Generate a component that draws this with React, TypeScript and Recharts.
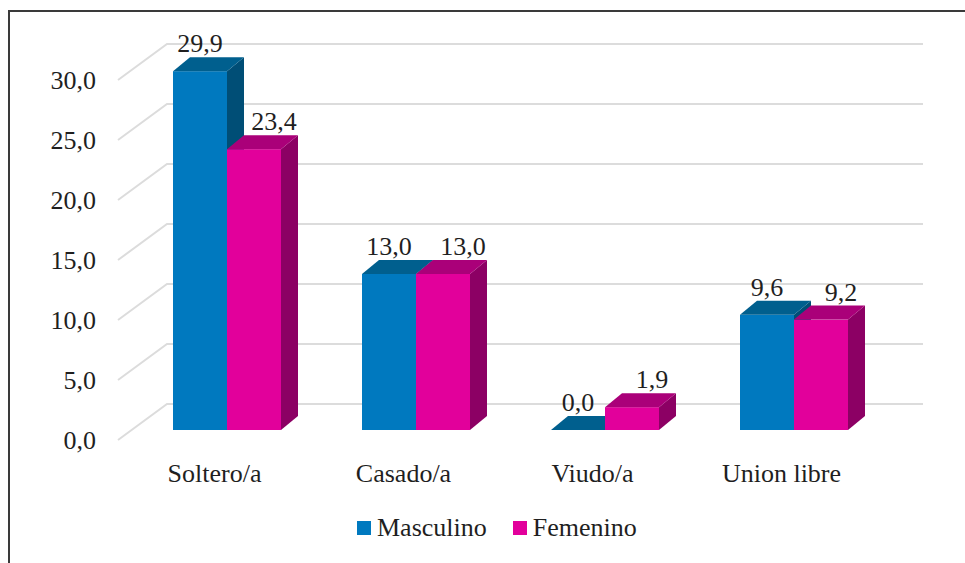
import React from 'react';
import { BarChart, Bar, XAxis, YAxis, CartesianGrid, LabelList } from 'recharts';

const categories = ['Soltero/a', 'Casado/a', 'Viudo/a', 'Union libre'];
const masculino = [29.9, 13.0, 0.0, 9.6];
const femenino = [23.4, 13.0, 1.9, 9.2];
const yTicks = [0, 5, 10, 15, 20, 25, 30];

const data = categories.map((name, i) => ({
  name,
  Masculino: masculino[i],
  Femenino: femenino[i],
}));

// 3D offsets
const WALL_DX = 49;
const WALL_DY = -36;
const BAR_OX = 14;
const BAR_OY = -10;
const DEPTH_X = 17;
const DEPTH_Y = -14;

const FONT = "'Liberation Serif', serif";
const TEXT = '#1f1f1f';
const txtStyle = { fontFamily: FONT, fontSize: 26 };

const colors = {
  Masculino: { front: '#0079BF', top: '#005F8E', side: '#004E76' },
  Femenino: { front: '#E2009B', top: '#AA0079', side: '#8C0064' },
};

const fmt = (v: number) => v.toFixed(1).replace('.', ',');

const make3DBar = (c: { front: string; top: string; side: string }) => (props: any) => {
  const { x, y, width, height } = props;
  const fx = x + BAR_OX;
  const fy = y + BAR_OY;
  const h = Math.max(0, height);
  return (
    <g>
      {h > 0 && (
        <polygon
          points={`${fx + width},${fy} ${fx + width + DEPTH_X},${fy + DEPTH_Y} ${fx + width + DEPTH_X},${fy + DEPTH_Y + h} ${fx + width},${fy + h}`}
          fill={c.side}
        />
      )}
      {h > 0 && <rect x={fx} y={fy} width={width} height={h} fill={c.front} />}
      <polygon
        points={`${fx},${fy} ${fx + DEPTH_X},${fy + DEPTH_Y} ${fx + width + DEPTH_X},${fy + DEPTH_Y} ${fx + width},${fy}`}
        fill={c.top}
      />
    </g>
  );
};

const makeLabel = (shift: number) => (props: any) => {
  const { x, y, width, value } = props;
  return (
    <text
      x={x + width / 2 + BAR_OX + shift}
      y={y + BAR_OY + DEPTH_Y - 5}
      textAnchor="middle"
      style={txtStyle}
      fill={TEXT}
    >
      {fmt(value)}
    </text>
  );
};

const gridLine = (props: any) => {
  const { x1, x2, y1, key } = props;
  return (
    <path
      key={key}
      d={`M${x1},${y1} L${x1 + WALL_DX},${y1 + WALL_DY} L${x2 + WALL_DX},${y1 + WALL_DY}`}
      stroke="#dcdcdc"
      strokeWidth={2}
      fill="none"
    />
  );
};

const YTick = (props: any) => {
  const { x, y, payload } = props;
  return (
    <text x={x - 20} y={y} dy="0.35em" textAnchor="end" style={txtStyle} fill={TEXT}>
      {fmt(payload.value)}
    </text>
  );
};

const XTick = (props: any) => {
  const { x, y, payload } = props;
  return (
    <text x={x + 2} y={y + 40} textAnchor="middle" style={txtStyle} fill={TEXT}>
      {payload.value}
    </text>
  );
};

const App: React.FC = () => {
  return (
    <div style={{ position: 'absolute', left: 0, top: 0, width: 965, height: 563, background: '#fff', overflow: 'hidden' }}>
      <div
        style={{
          position: 'absolute',
          left: 8,
          top: 10,
          width: 980,
          height: 600,
          borderTop: '2px solid #3a3a3a',
          borderLeft: '2px solid #3a3a3a',
        }}
      />
      <BarChart
        width={965}
        height={563}
        data={data}
        margin={{ top: 80, right: 91, left: 0, bottom: 63 }}
        barSize={54}
        barGap={0}
      >
        <CartesianGrid vertical={false} horizontal={gridLine} />
        <XAxis dataKey="name" axisLine={false} tickLine={false} tickSize={0} height={60} tick={<XTick />} interval={0} />
        <YAxis
          domain={[0, 30]}
          ticks={yTicks}
          axisLine={false}
          tickLine={false}
          tickSize={0}
          width={118}
          tick={<YTick />}
          interval={0}
        />
        <Bar dataKey="Masculino" isAnimationActive={false} shape={make3DBar(colors.Masculino)}>
          <LabelList dataKey="Masculino" content={makeLabel(0)} />
        </Bar>
        <Bar dataKey="Femenino" isAnimationActive={false} shape={make3DBar(colors.Femenino)}>
          <LabelList dataKey="Femenino" content={makeLabel(20)} />
        </Bar>
      </BarChart>
      <div
        style={{
          position: 'absolute',
          top: 513,
          left: 357,
          display: 'flex',
          alignItems: 'center',
          fontFamily: FONT,
          fontSize: 26,
          color: TEXT,
        }}
      >
        <span style={{ width: 14, height: 14, background: colors.Masculino.front, display: 'inline-block', marginRight: 6 }} />
        <span style={{ marginRight: 26 }}>Masculino</span>
        <span style={{ width: 14, height: 14, background: colors.Femenino.front, display: 'inline-block', marginRight: 6 }} />
        <span>Femenino</span>
      </div>
    </div>
  );
};

export default App;
